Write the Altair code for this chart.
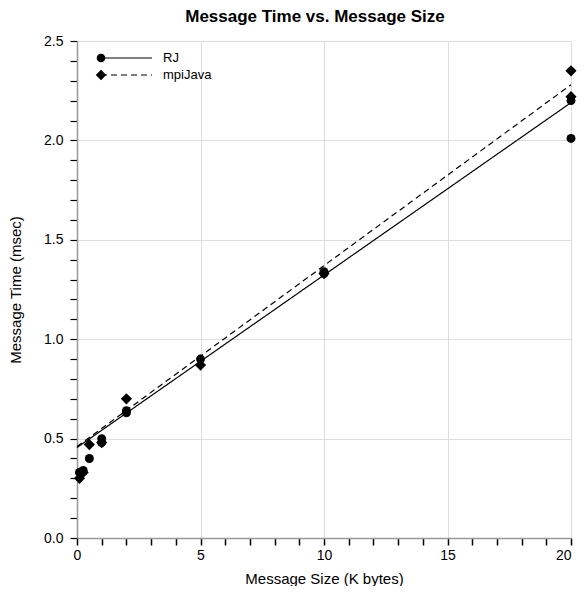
import altair as alt
import pandas as pd

# --- data ---
rj_size = [0.1, 0.25, 0.5, 1, 1, 2, 2, 5, 10, 10, 20, 20]
rj_time = [0.33, 0.34, 0.40, 0.50, 0.48, 0.63, 0.64, 0.90, 1.33, 1.34, 2.20, 2.01]
mpi_size = [0.1, 0.25, 0.5, 1, 2, 5, 10, 20, 20]
mpi_time = [0.30, 0.33, 0.47, 0.48, 0.70, 0.87, 1.33, 2.35, 2.22]
fit_size = [0, 20]
rj_fit = [0.455, 2.19]
mpi_fit = [0.46, 2.28]

series = ["RJ", "mpiJava"]

pts = pd.DataFrame(
    {"size": rj_size + mpi_size,
     "time": rj_time + mpi_time,
     "series": ["RJ"] * len(rj_size) + ["mpiJava"] * len(mpi_size)}
)
fits = pd.DataFrame(
    {"size": fit_size * 2,
     "time": rj_fit + mpi_fit,
     "series": ["RJ"] * 2 + ["mpiJava"] * 2}
)

FONT = "Liberation Sans"

x_axis = alt.Axis(
    values=list(range(0, 21)),
    labelExpr="datum.value % 5 === 0 ? datum.label : ''",
    labelAlign={"condition": {"test": "datum.value === 20", "value": "right"}, "value": "center"},
    gridOpacity={"condition": {"test": "datum.value % 5 === 0", "value": 1}, "value": 0},
    title="Message Size (K bytes)",
    ticks=True, tickColor="#000000", tickOpacity=1, tickWidth=1.5, tickSize=7,
    labelPadding=3, titlePadding=9,
)
y_axis = alt.Axis(
    values=[round(i * 0.1, 1) for i in range(0, 26)],
    format=".1f",
    labelExpr="abs(datum.value*2 - round(datum.value*2)) < 1e-6 ? datum.label : ''",
    gridOpacity={"condition": {"test": "abs(datum.value*2 - round(datum.value*2)) < 1e-6", "value": 1}, "value": 0},
    title="Message Time (msec)",
    ticks=True, tickColor="#000000", tickOpacity=1, tickWidth=1.2, tickSize=7,
    labelPadding=7, titlePadding=20,
)

xs = alt.X("size:Q", scale=alt.Scale(domain=[0, 20], nice=False), axis=x_axis)
ys = alt.Y("time:Q", scale=alt.Scale(domain=[0, 2.5], nice=False), axis=y_axis)

shape_scale = alt.Scale(domain=series, range=["circle", "diamond"])
size_scale = alt.Scale(domain=series, range=[80, 125])
dash_scale = alt.Scale(domain=series, range=[[1, 0], [6, 4]])

lines = alt.Chart(fits).mark_line(color="black", strokeWidth=1.2).encode(
    x=xs, y=ys,
    strokeDash=alt.StrokeDash("series:N", scale=dash_scale, legend=None),
    detail="series:N",
)
points = alt.Chart(pts).mark_point(filled=True, color="black", opacity=1).encode(
    x=xs, y=ys,
    shape=alt.Shape("series:N", scale=shape_scale, legend=None),
    size=alt.Size("series:N", scale=size_scale, legend=None),
)

# manual legend (top-left inside the plot)
leg = pd.DataFrame({"series": series})
leg_rj = alt.Chart(leg).transform_filter("datum.series === 'RJ'")
leg_mpi = alt.Chart(leg).transform_filter("datum.series === 'mpiJava'")
legend_layers = []
for base, yy, dash, shp, sz in [(leg_rj, 17, [1, 0], "circle", 75),
                                (leg_mpi, 34, [6, 4], "diamond", 110)]:
    legend_layers.append(
        base.mark_rule(color="black", strokeWidth=1.2, strokeDash=dash).encode(
            x=alt.value(24), x2=alt.value(75), y=alt.value(yy))
    )
    legend_layers.append(
        base.mark_point(filled=True, color="black", opacity=1, size=sz, shape=shp).encode(
            x=alt.value(24), y=alt.value(yy))
    )
    legend_layers.append(
        base.mark_text(align="left", baseline="middle", font=FONT, fontSize=13, color="black").encode(
            x=alt.value(86), y=alt.value(yy), text="series:N")
    )

chart = alt.layer(lines, points, *legend_layers).properties(
    width=569, height=578,
    autosize=alt.AutoSizeParams(type="fit", contains="padding"),
    padding={"top": 0, "bottom": 0, "left": 0, "right": 0},
    title=alt.TitleParams("Message Time vs. Message Size", font=FONT, fontSize=17,
                          fontWeight="bold", color="black", offset=4, dx=-9, dy=-4),
).configure_view(stroke=None).configure_axis(
    labelFont=FONT, titleFont=FONT, labelFontSize=14, titleFontSize=15,
    labelColor="black", titleColor="black", titleFontWeight="normal",
    domainColor="#999999", domainWidth=1.5,
    gridColor="#dddddd",
)

chart.save("out.html", embed_options={"renderer": "svg", "actions": False})
